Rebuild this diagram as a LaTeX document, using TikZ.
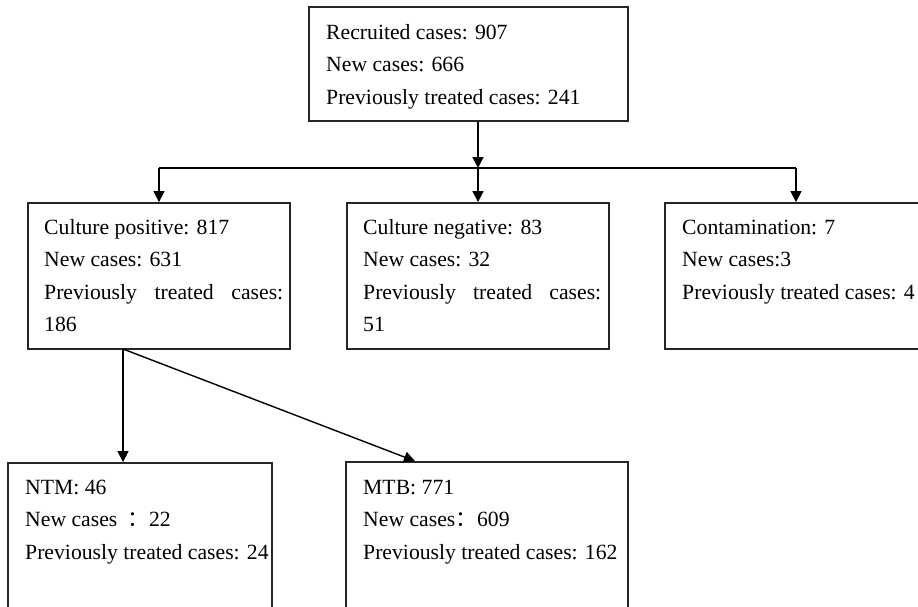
\documentclass[tikz,border=0pt]{standalone}
\usepackage{fontspec}
\setmainfont{Liberation Serif}
\newfontfamily\cjk{Noto Sans CJK SC}
\usetikzlibrary{arrows.meta}
\tikzset{
  box/.style={draw=black!85, line width=1.8pt, rectangle, inner sep=0pt, fill=none},
  txt/.style={anchor=base west, inner sep=0pt, font=\fontsize{21.7pt}{26pt}\selectfont, text=black},
  conn/.style={draw=black, line width=1.4pt},
  arr/.style={conn, -{Triangle[length=11pt,width=11pt]}}
}
\begin{document}
\begin{tikzpicture}[x=1pt,y=-1pt]
\useasboundingbox (0,0) rectangle (918,607);
\clip (0,0) rectangle (918,607);
\fill[white] (0,0) rectangle (918,607);
% boxes
\node[box, minimum width=319pt, minimum height=114pt] (top) at (468.5,64) {};
\node[box, minimum width=262pt, minimum height=146pt] (cp) at (159,276) {};
\node[box, minimum width=262pt, minimum height=146pt] (cn) at (478,276) {};
\node[box, minimum width=262pt, minimum height=146pt] (ct) at (796,276) {};
\node[box, minimum width=264pt, minimum height=150pt] (ntm) at (140,538) {};
\node[box, minimum width=282pt, minimum height=150pt] (mtb) at (487,537) {};
% texts
\node[txt] (t1) at (326,39.5) {Recruited cases: 907};
\node[txt] (t2) at (326,72) {New cases: 666};
\node[txt] (t3) at (326,104.5) {Previously treated cases: 241};
\node[txt] (p1) at (44,234) {Culture positive: 817};
\node[txt] (p2) at (44,266.5) {New cases: 631};
\node[txt] (p3) at (44,299) {\makebox[239pt][s]{Previously treated cases:}};
\node[txt] (p4) at (44,331.5) {186};
\node[txt] (n1) at (363,234) {Culture negative: 83};
\node[txt] (n2) at (363,266.5) {New cases: 32};
\node[txt] (n3) at (363,299) {\makebox[238pt][s]{Previously treated cases:}};
\node[txt] (n4) at (363,331.5) {51};
\node[txt] (c1) at (682,234) {Contamination: 7};
\node[txt] (c2) at (682,266.5) {New cases:3};
\node[txt] (c3) at (682,299) {Previously treated cases: 4};
\node[txt] (m1) at (25,494) {NTM: 46};
\node[txt] (m2) at (25,526.5) {New cases\hspace{10pt}{\cjk ：}22};
\node[txt] (m3) at (25,559) {Previously treated cases: 24};
\node[txt] (b1) at (363,494) {MTB: 771};
\node[txt] (b2) at (363,526.5) {New cases{\cjk ：}609};
\node[txt] (b3) at (363,559) {Previously treated cases: 162};
% connectors
\coordinate (bus) at (478,168);
\coordinate (busL) at (cp.north |- bus);
\coordinate (busR) at (ct.north |- bus);
\coordinate (split) at (123,349);
\draw[arr] (top.south -| bus) -- (bus);
\draw[conn] (busL) -- (busR);
\draw[arr] (busL) -- (cp.north);
\draw[arr] (bus) -- (cn.north);
\draw[arr] (busR) -- (ct.north);
\draw[arr] (split) -- (ntm.north -| split);
\draw[arr] (split) -- (mtb.north -| 415,0);
\end{tikzpicture}
\end{document}
